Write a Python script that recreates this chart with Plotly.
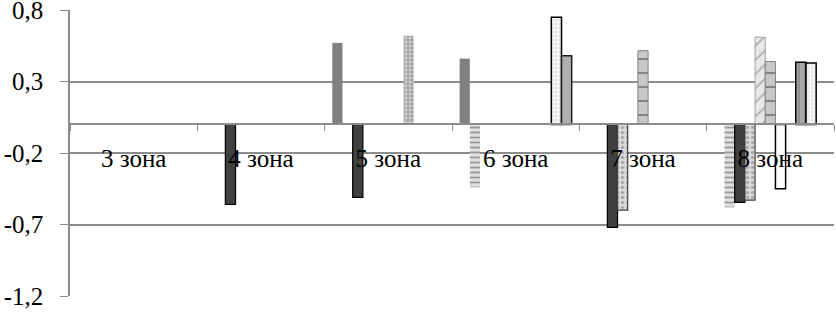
import plotly.graph_objects as go

categories = ["3 зона", "4 зона", "5 зона", "6 зона", "7 зона", "8 зона"]

# 11 series (slot order within each zone); None = no bar
s1 = [None, None, 0.57, 0.46, None, None]
s2 = [None, None, None, -0.44, None, -0.58]
s3 = [None, -0.56, -0.51, None, -0.72, -0.545]
s4 = [None, None, None, None, -0.60, -0.53]
s5 = [None, None, None, None, None, 0.61]
s6 = [None, None, None, None, 0.515, 0.44]
s7 = [None, None, None, None, None, -0.45]
s8 = [None, None, 0.62, None, None, None]
s9 = [None, None, None, None, None, 0.435]
s10 = [None, None, None, 0.75, None, 0.43]
s11 = [None, None, None, 0.48, None, None]

tick_vals = [-1.2, -0.7, -0.2, 0.3, 0.8]
tick_text = ["-1,2", "-0,7", "-0,2", "0,3", "0,8"]

styles = [
    dict(color="#808080", line=dict(width=0)),
    dict(color="#e0e0e0", line=dict(width=0), pattern=dict(shape="-", fgcolor="#505050", size=5, solidity=0.35)),
    dict(color="#404040", line=dict(width=1.2, color="#000000")),
    dict(color="#d8d8d8", line=dict(width=1.2, color="#404040"), pattern=dict(shape=".", fgcolor="#707070", size=5, solidity=0.3)),
    dict(color="#e8e8e8", line=dict(width=1, color="#a0a0a0"), pattern=dict(shape="/", fgcolor="#808080", size=10, solidity=0.2)),
    dict(color="#c8c8c8", line=dict(width=1, color="#808080"), pattern=dict(shape="-", fgcolor="#404040", size=14, solidity=0.15)),
    dict(color="#ffffff", line=dict(width=1.5, color="#000000")),
    dict(color="#c8c8c8", line=dict(width=0), pattern=dict(shape=".", fgcolor="#707070", size=4, solidity=0.4)),
    dict(color="#a8a8a8", line=dict(width=1.5, color="#000000"), pattern=dict(shape="|", fgcolor="#707070", size=6, solidity=0.3)),
    dict(color="#f4f4f4", line=dict(width=1.5, color="#000000"), pattern=dict(shape=".", fgcolor="#d0d0d0", size=4, solidity=0.3)),
    dict(color="#b0b0b0", line=dict(width=1.5, color="#202020")),
]

series = [s1, s2, s3, s4, s5, s6, s7, s8, s9, s10, s11]

fig = go.Figure()
for i, (vals, st) in enumerate(zip(series, styles)):
    fig.add_trace(go.Bar(x=categories, y=vals, name=f"s{i+1}", marker=st, showlegend=False))

fig.update_layout(
    width=836, height=312,
    margin=dict(l=70, r=2, t=10, b=16, autoexpand=False),
    barmode="group", bargap=0.12, bargroupgap=0,
    plot_bgcolor="white", paper_bgcolor="white",
    font=dict(family="Liberation Serif, Times New Roman, serif", size=25, color="black"),
    showlegend=False,
)
fig.update_yaxes(
    range=[-1.2, 0.8], tickvals=tick_vals, ticktext=tick_text,
    showgrid=True, gridcolor="#8c8c8c", gridwidth=1.5,
    zeroline=True, zerolinecolor="#8c8c8c", zerolinewidth=1.5,
    showline=True, linecolor="#8c8c8c", linewidth=1.5,
    ticks="outside", ticklen=8, tickcolor="#8c8c8c", ticklabelstandoff=12,
    ticklabeloverflow="allow", automargin=False,
)
fig.update_xaxes(
    anchor="free", position=0.6,
    showline=True, linecolor="#8c8c8c", linewidth=1.5,
    tickson="boundaries", ticks="outside", ticklen=6, tickcolor="#8c8c8c",
    showgrid=False, ticklabelstandoff=12, layer="above traces", automargin=False,
)

fig.write_html("out.html", config={"displayModeBar": False},
               post_script="document.body.style.margin='0';")
